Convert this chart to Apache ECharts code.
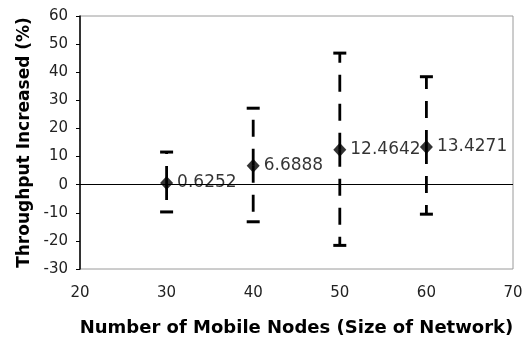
<!DOCTYPE html>
<html>
<head>
<meta charset="utf-8">
<script src="https://cdn.jsdelivr.net/npm/echarts@6/dist/echarts.min.js"></script>
<style>
html,body{margin:0;padding:0;background:#fff;}
#chart{width:523px;height:339px;}
</style>
</head>
<body>
<div id="chart"></div>
<script>
const nodeCounts = [30, 40, 50, 60];
const meanValues = [0.6252, 6.6888, 12.4642, 13.4271];
const upperValues = [11.6, 27.2, 46.8, 38.4];
const lowerValues = [-9.7, -13.2, -21.6, -10.5];
const xTitle = 'Number of Mobile Nodes (Size of Network)';
const yTitle = 'Throughput Increased (%)';

const pointData = nodeCounts.map((x, i) => [x, meanValues[i]]);
const errData = nodeCounts.map((x, i) => [x, meanValues[i], lowerValues[i], upperValues[i]]);

const chart = echarts.init(document.getElementById('chart'), null, {renderer: 'canvas'});
const font = '"DejaVu Sans", Verdana, sans-serif';

chart.setOption({
  animation: false,
  backgroundColor: '#fff',
  grid: {left: 80, right: 10, top: 16, bottom: 70, containLabel: false, outerBoundsMode: 'none', show: true, borderColor: '#9a9a9a', borderWidth: 1, backgroundColor: 'transparent'},
  xAxis: {
    type: 'value', min: 20, max: 70, interval: 10,
    name: xTitle, nameLocation: 'middle', nameGap: 50,
    nameTextStyle: {fontFamily: font, fontWeight: 'bold', fontSize: 18, color: '#000'},
    axisLine: {show: false},
    axisTick: {show: false},
    splitLine: {show: false},
    axisLabel: {fontFamily: font, fontSize: 15, color: '#222', margin: 17}
  },
  yAxis: {
    type: 'value', min: -30, max: 60, interval: 10,
    name: yTitle, nameLocation: 'middle', nameGap: 45,
    nameTextStyle: {fontFamily: font, fontWeight: 'bold', fontSize: 17, color: '#000'},
    axisLine: {show: true, onZero: false, lineStyle: {color: '#000', width: 1.5}},
    axisTick: {show: true, inside: false, length: 4, lineStyle: {color: '#000'}},
    splitLine: {show: false},
    axisLabel: {fontFamily: font, fontSize: 15, color: '#222', margin: 12}
  },
  series: [
    {
      type: 'custom',
      data: errData,
      z: 3,
      silent: true,
      renderItem: function (params, api) {
        const x = api.value(0);
        const pm = api.coord([x, api.value(1)]);
        const pl = api.coord([x, api.value(2)]);
        const ph = api.coord([x, api.value(3)]);
        const st = {stroke: '#000', lineWidth: 2.8, lineDash: [17, 12], fill: null};
        const cap = {stroke: '#000', lineWidth: 3, fill: null};
        const hw = 6.5;
        return {
          type: 'group',
          children: [
            {type: 'line', shape: {x1: pm[0], y1: pm[1], x2: ph[0], y2: ph[1]}, style: st},
            {type: 'line', shape: {x1: pm[0], y1: pm[1], x2: pl[0], y2: pl[1]}, style: st},
            {type: 'line', shape: {x1: ph[0] - hw, y1: ph[1], x2: ph[0] + hw, y2: ph[1]}, style: cap},
            {type: 'line', shape: {x1: pl[0] - hw, y1: pl[1], x2: pl[0] + hw, y2: pl[1]}, style: cap}
          ]
        };
      }
    },
    {
      type: 'scatter',
      data: pointData,
      z: 4,
      symbol: 'diamond',
      symbolSize: [13, 14],
      itemStyle: {color: '#000'},
      label: {
        show: true, position: 'right', distance: 4,
        fontFamily: font, fontSize: 17, color: '#000',
        formatter: p => String(p.value[1])
      },
      markLine: {
        silent: true, symbol: 'none', z: 2,
        label: {show: false},
        lineStyle: {color: '#000', width: 1.2, type: 'solid'},
        data: [{yAxis: 0}]
      }
    }
  ]
});
</script>
</body>
</html>
